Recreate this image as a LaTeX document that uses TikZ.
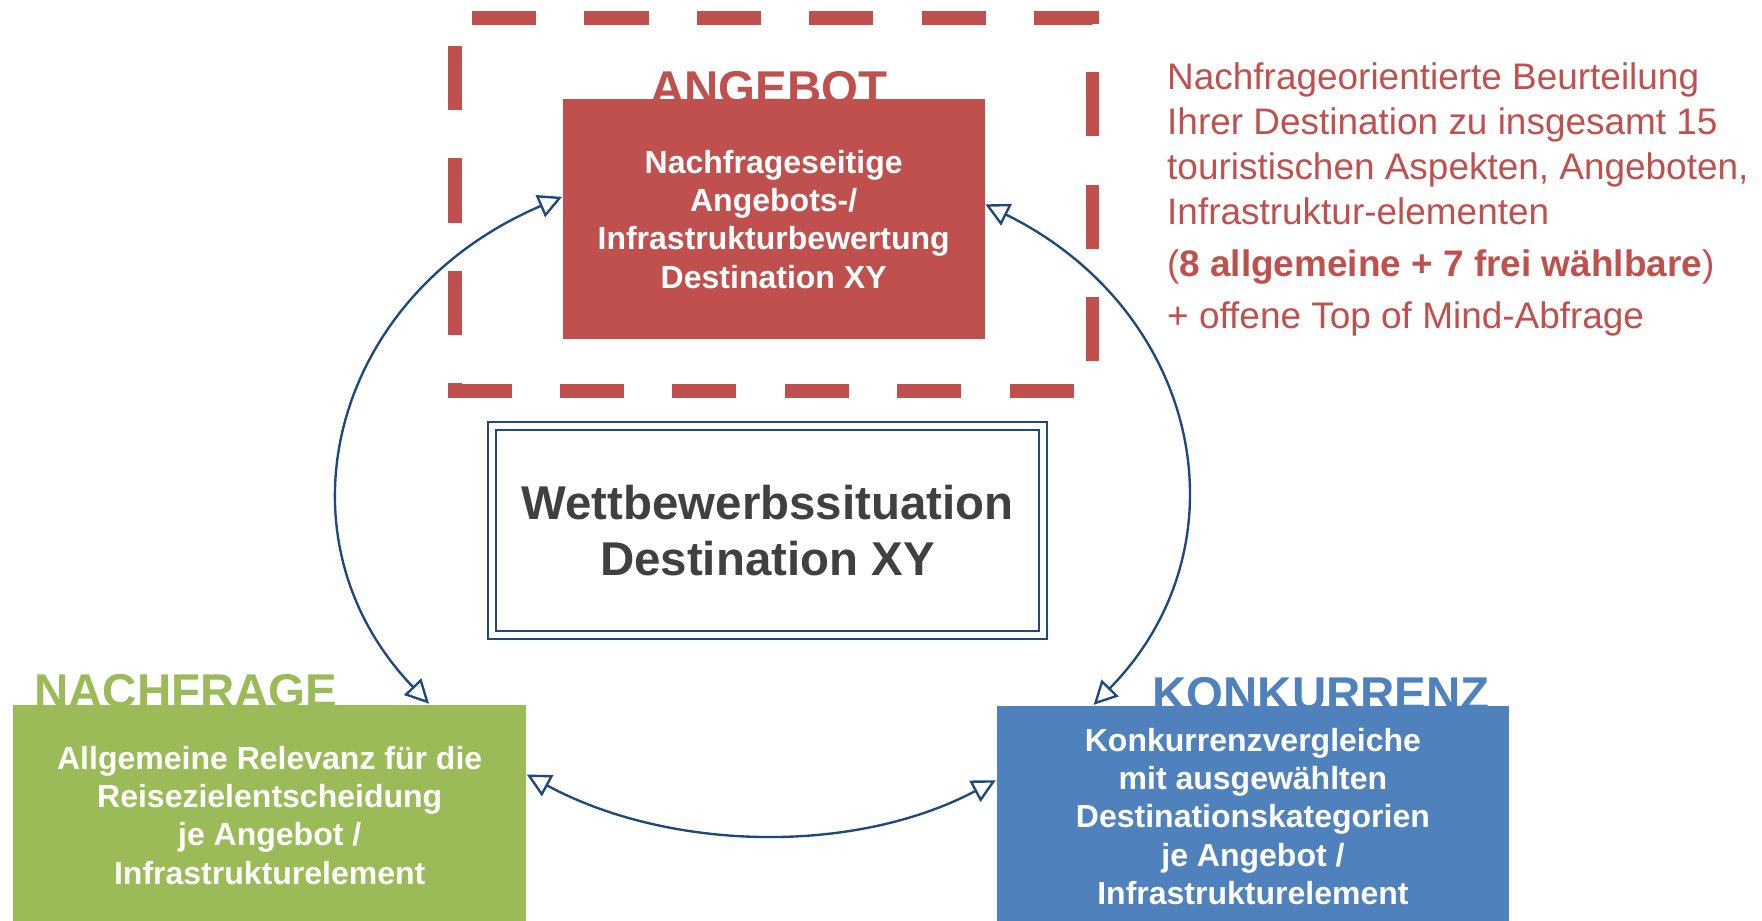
\documentclass[tikz,border=0pt]{standalone}
\usepackage{fontspec}
\setmainfont{Liberation Sans}
\usetikzlibrary{arrows.meta, positioning}
\definecolor{angebotred}{HTML}{C0504D}
\definecolor{nachfragegreen}{HTML}{9BBB59}
\definecolor{konkurrenzblue}{HTML}{4F81BD}
\definecolor{cyclenavy}{HTML}{1F497D}
\definecolor{textgray}{HTML}{404040}
\tikzset{
  infobox/.style={
    rectangle, inner sep=0pt,
    minimum width=4.56cm, minimum height=1.97cm,
    align=center, text=white,
    font=\fontsize{8.1}{9.7}\selectfont\bfseries
  },
  boxlabel/.style={
    inner sep=0pt,
    font=\fontsize{12}{14}\selectfont\bfseries
  },
  centerbox/.style={
    rectangle, inner sep=0pt,
    minimum width=4.9cm, minimum height=1.86cm,
    draw=cyclenavy, line width=0.5pt,
    double=white, double distance=0.05cm,
    align=center, text=textgray,
    font=\fontsize{12}{14.2}\selectfont\bfseries
  },
  notetext/.style={
    inner sep=0pt, align=left, text=angebotred,
    font=\fontsize{9.35}{11.38}\selectfont
  },
  dashframe/.style={
    draw=angebotred, line width=0.12cm,
    dash pattern=on 0.57cm off 0.43cm, dash phase=0.85cm
  },
  cyclearrow/.style={
    {Triangle[open, length=6pt, width=6pt]}-{Triangle[open, length=6pt, width=6pt]},
    line width=0.6pt, color=cyclenavy
  },
}
\begin{document}
\begin{tikzpicture}[x=0.01cm, y=-0.01cm]
  \useasboundingbox (0,0) rectangle (1568,819);

  % Frame round the offer box
  \draw[dashframe] (405,16) -- (972,16) -- (972,348) -- (405,348) -- cycle;

  % Labels (partly covered by the boxes)
  \node[boxlabel, text=angebotred, anchor=base] (angebotlabel) at (684,93) {ANGEBOT};
  \node[boxlabel, text=nachfragegreen, anchor=base west] (nachfragelabel) at (30,630) {NACHFRAGE};
  \node[boxlabel, text=konkurrenzblue, anchor=base west] (konkurrenzlabel) at (1025,632) {KONKURRENZ};

  % Boxes
  \node[infobox, fill=angebotred, minimum width=3.75cm, minimum height=2.14cm] (angebot) at (688.5,195)
        {Nachfrageseitige\\Angebots-/\\Infrastrukturbewertung\\Destination XY};
  \node[infobox, fill=nachfragegreen] (nachfrage) at (240,725.5)
        {Allgemeine Relevanz für die\\Reisezielentscheidung\\je Angebot /\\Infrastrukturelement};
  \node[infobox, fill=konkurrenzblue] (konkurrenz) at (1115,726.5)
        {Konkurrenzvergleiche\\mit ausgewählten\\Destinationskategorien\\je Angebot /\\Infrastrukturelement};
  \node[centerbox] (situation) at (683,472) {Wettbewerbssituation\\Destination XY};

  % Cycle arrows
  \draw[cyclearrow] (angebot.174) .. controls +(-206,88) and +(-142,-148) .. (nachfrage.35);
  \draw[cyclearrow] (angebot.4) .. controls +(192,95) and +(139,-142) .. (konkurrenz.145);
  \draw[cyclearrow] (nachfrage.9) .. controls +(126,68) and +(-127,67) .. (konkurrenz.172);

  % Note
  \node[notetext, anchor=north west] (note) at (1038,55)
        {Nachfrageorientierte Beurteilung\\
         Ihrer Destination zu insgesamt 15\\
         touristischen Aspekten, Angeboten,\\
         Infrastruktur-elementen\\[1.8pt]
         (\textbf{8 allgemeine + 7 frei wählbare})\\[1.8pt]
         + offene Top of Mind-Abfrage};

\end{tikzpicture}
\end{document}
